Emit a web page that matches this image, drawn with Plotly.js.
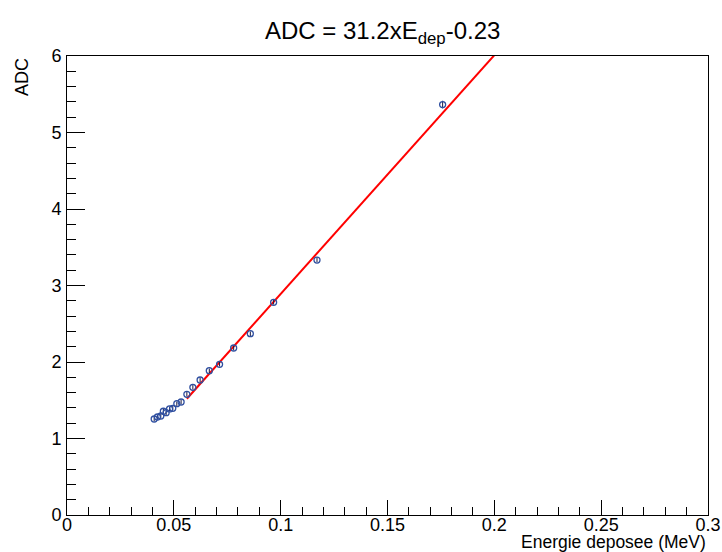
<!DOCTYPE html>
<html>
<head>
<meta charset="utf-8">
<script src="https://cdn.plot.ly/plotly-3.0.1.min.js"></script>
<style>html,body{margin:0;padding:0;background:#fff;}#chart{width:722px;height:552px;}</style>
</head>
<body>
<div id="chart"></div>
<script>
// Measured points
var energy = [0.0408, 0.0423, 0.0439, 0.0451, 0.0464, 0.0480, 0.0495, 0.0514, 0.0534, 0.0561, 0.0589, 0.0623, 0.0666, 0.0714, 0.0780, 0.0858, 0.0967, 0.1170, 0.1758];
var adc    = [1.255, 1.281, 1.294, 1.356, 1.337, 1.386, 1.395, 1.455, 1.477, 1.578, 1.669, 1.765, 1.886, 1.970, 2.183, 2.370, 2.780, 3.333, 5.365];
var adcErr = [0.03, 0.03, 0.03, 0.03, 0.03, 0.03, 0.03, 0.03, 0.03, 0.03, 0.03, 0.03, 0.03, 0.03, 0.03, 0.03, 0.03, 0.03, 0.05];
// Fit line endpoints (ADC = 31.2 x E - 0.23)
var fitE   = [0.0561, 0.2030];
var fitADC = [1.520, 6.104];
// Axis ticks
var xTicks = [0, 0.05, 0.1, 0.15, 0.2, 0.25, 0.3];
var xTickText = ['0', '0.05', '0.1', '0.15', '0.2', '0.25', '0.3'];
var yTicks = [0, 1, 2, 3, 4, 5, 6];

var font = 'Liberation Sans, Arial, Helvetica, sans-serif';

var traces = [
  {
    x: fitE, y: fitADC, type: 'scatter', mode: 'lines',
    line: {color: '#ff0000', width: 2}, hoverinfo: 'skip', showlegend: false
  },
  {
    x: energy, y: adc, type: 'scatter', mode: 'markers',
    marker: {symbol: 'circle-open', size: 6, color: '#2f4fa0', line: {width: 1.3, color: '#2f4fa0'}},
    error_y: {type: 'data', array: adcErr, visible: true, color: '#1a1a40', thickness: 1, width: 0},
    showlegend: false
  }
];

var layout = {
  width: 722, height: 552,
  margin: {l: 67, r: 14, t: 56, b: 37, pad: 0},
  paper_bgcolor: '#ffffff', plot_bgcolor: '#ffffff',
  font: {family: font, color: '#000', size: 17},
  showlegend: false,
  title: {text: 'ADC = 31.2xE<sub>dep</sub>-0.23', font: {family: font, size: 24, color: '#000'},
          x: 0.53, xanchor: 'center', y: 0.945, yanchor: 'middle'},
  xaxis: {
    range: [0, 0.3], tickvals: xTicks, ticktext: xTickText,
    ticks: 'inside', ticklen: 15, tickwidth: 1, tickcolor: '#000',
    minor: {dtick: 0.01, ticks: 'inside', ticklen: 8, tickwidth: 1, tickcolor: '#000', showgrid: false},
    showline: true, linecolor: '#000', linewidth: 1, mirror: true,
    showgrid: false, zeroline: false, ticklabelstandoff: -7,
    tickfont: {family: font, size: 18, color: '#000'}
  },
  yaxis: {
    range: [0, 6], tickvals: yTicks,
    ticks: 'inside', ticklen: 18, tickwidth: 1, tickcolor: '#000',
    minor: {dtick: 0.2, ticks: 'inside', ticklen: 9, tickwidth: 1, tickcolor: '#000', showgrid: false},
    showline: true, linecolor: '#000', linewidth: 1, mirror: true,
    showgrid: false, zeroline: false, ticklabelstandoff: 1,
    tickfont: {family: font, size: 18, color: '#000'}
  },
  annotations: [
    {text: 'Energie deposee (MeV)', xref: 'paper', yref: 'paper', x: 1, y: 0, xanchor: 'right', yanchor: 'top',
     yshift: -15, showarrow: false, font: {family: font, size: 17.5, color: '#000'}},
    {text: 'ADC', xref: 'paper', yref: 'paper', x: 0, y: 1, xanchor: 'center', yanchor: 'top', textangle: -90,
     xshift: -45, showarrow: false, font: {family: font, size: 18, color: '#000'}}
  ]
};

Plotly.newPlot('chart', traces, layout, {displayModeBar: false, staticPlot: true});
</script>
</body>
</html>
